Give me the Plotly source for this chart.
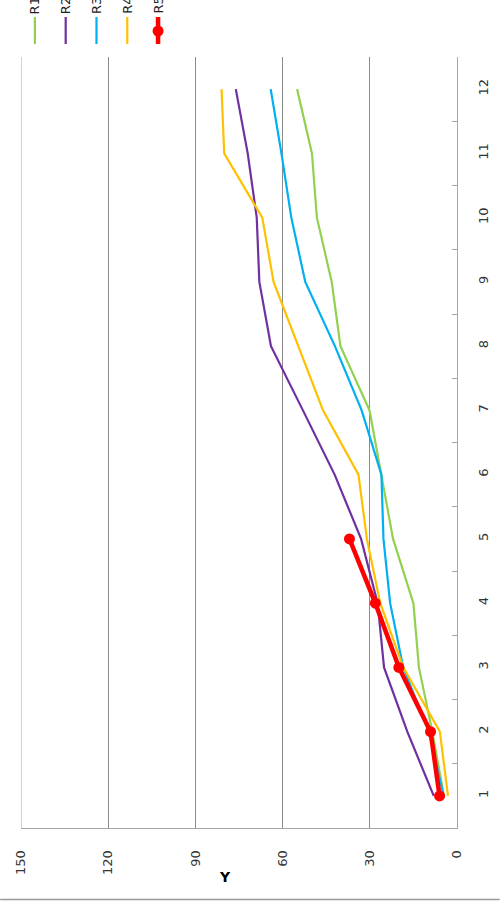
import plotly.graph_objects as go

categories = [str(i) for i in range(1, 13)]
series_names = ["R1", "R2", "R3", "R4", "R5"]
r1 = [4.5, 8.5, 13.1, 15.0, 22.0, 26.0, 30.1, 40.1, 43.1, 48.2, 49.9, 55.0]
r2 = [8.0, 17.1, 25.1, 27.3, 33.0, 42.1, 53.0, 64.0, 68.0, 68.9, 72.0, 76.1]
r3 = [4.6, 9.7, 18.5, 23.0, 25.3, 26.0, 32.8, 42.0, 52.2, 57.0, 60.4, 64.1]
r4 = [3.1, 5.9, 18.5, 26.4, 31.0, 33.9, 46.1, 54.6, 63.1, 67.0, 80.1, 81.0]
r5 = [6.0, 9.1, 20.0, 28.1, 37.0]
value_ticks = [0, 30, 60, 90, 120, 150]
colors = ["#92d050", "#7030a0", "#00b0f0", "#ffc000", "#ff0000"]

W, H = 503, 901
L, R, T, B = 21, 43, 57, 73
pw, ph = W - L - R, H - T - B

def px_x(p):
    return (p - L) / pw

def px_y(p):
    return (H - B - p) / ph

fig = go.Figure()
all_series = [r1, r2, r3, r4, r5]
for i, (name, vals) in enumerate(zip(series_names, all_series)):
    if i < 4:
        fig.add_trace(go.Scatter(x=vals, y=categories[:len(vals)], mode="lines", name=name,
                                 line=dict(color=colors[i], width=2.2), showlegend=False))
    else:
        fig.add_trace(go.Scatter(x=vals, y=categories[:len(vals)], mode="lines+markers", name=name,
                                 line=dict(color=colors[i], width=4.5),
                                 marker=dict(color=colors[i], size=11), showlegend=False))

font = dict(family="DejaVu Sans", size=13, color="#333333")

fig.update_layout(
    width=W, height=H,
    margin=dict(l=L, r=R, t=T, b=B, pad=0),
    paper_bgcolor="white", plot_bgcolor="white",
    font=font,
    xaxis=dict(range=[150, 0], tickvals=value_ticks, tickangle=-90,
               showgrid=True, gridcolor="#8c8c8c", gridwidth=1,
               zeroline=False, showline=True, linecolor="#a6a6a6", linewidth=1,
               ticks="", ticklabelstandoff=16, tickfont=font),
    yaxis=dict(type="category", categoryarray=categories, categoryorder="array",
               range=[-0.5, 11.5], side="right", tickangle=-90,
               showgrid=False, zeroline=False, showline=True, linecolor="#a6a6a6", linewidth=1,
               ticks="inside", tickson="boundaries", ticklen=5, tickcolor="#a6a6a6",
               ticklabelstandoff=14, tickfont=font),
)

# left edge gridline (value 150)
fig.add_shape(type="line", xref="x", yref="paper", x0=150, x1=150, y0=0, y1=1,
              line=dict(color="#a6a6a6", width=1))

# axis title
fig.add_annotation(text="<b>Y</b>", xref="paper", yref="paper", x=px_x(226), y=px_y(877),
                   xanchor="center", yanchor="middle", showarrow=False,
                   font=dict(family="DejaVu Sans", size=14, color="#000000"))

# legend (rotated)
leg_x = [35, 66, 97, 128, 159]
for i, name in enumerate(series_names):
    xp = px_x(leg_x[i])
    fig.add_shape(type="line", xref="paper", yref="paper", x0=xp, x1=xp,
                  y0=px_y(44), y1=px_y(17),
                  line=dict(color=colors[i], width=4.5 if i == 4 else 2.2))
    if i == 4:
        fig.add_shape(type="circle", xref="paper", yref="paper",
                      xsizemode="pixel", ysizemode="pixel", xanchor=xp, yanchor=px_y(31),
                      x0=-5.5, x1=5.5, y0=-5.5, y1=5.5,
                      fillcolor=colors[i], line=dict(color=colors[i], width=0))
    fig.add_annotation(text=name, xref="paper", yref="paper", x=xp, y=px_y(15),
                       xanchor="center", yanchor="bottom", textangle=-90, showarrow=False,
                       borderpad=0,
                       font=dict(family="DejaVu Sans", size=13, color="#222222"))

# outer border line at the bottom
fig.add_shape(type="line", xref="paper", yref="paper", x0=px_x(0), x1=px_x(W),
              y0=px_y(899.5), y1=px_y(899.5), line=dict(color="#999999", width=1.5))

fig.write_html("out.html", config={"displayModeBar": False},
               post_script="document.body.style.margin='0px';document.body.style.overflow='hidden';")
